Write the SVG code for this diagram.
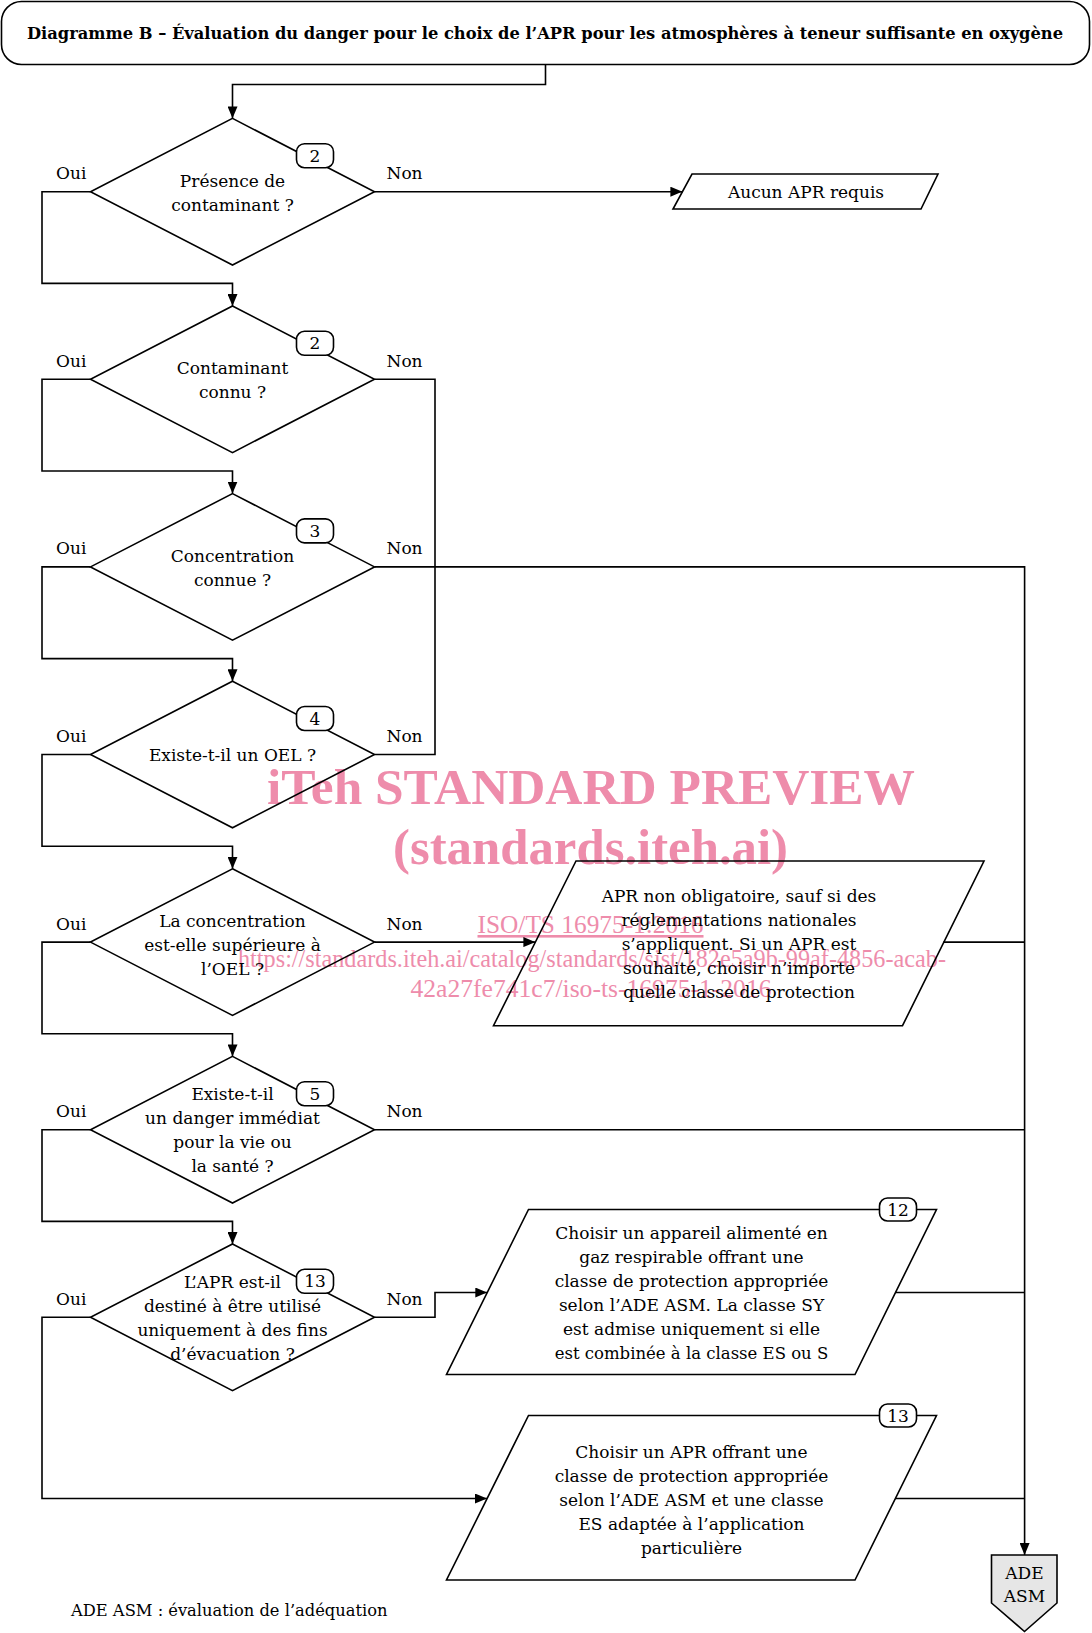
<svg xmlns="http://www.w3.org/2000/svg" width="1092" height="1633" viewBox="0 0 1092 1633">
<style>
.t{font-family:"DejaVu Serif","Liberation Serif",serif;font-size:17px;fill:#000;text-anchor:middle}
.l{font-family:"DejaVu Serif","Liberation Serif",serif;font-size:17px;fill:#000}
.s{fill:none;stroke:#000;stroke-width:1.6;stroke-linejoin:miter}
.b{fill:#fff;stroke:#000;stroke-width:1.6}
.c{fill:none;stroke:#000;stroke-width:1.6}
.a{marker-end:url(#arr)}
.wm{font-family:"Liberation Serif","Times New Roman",serif;fill:#ee8cab;text-anchor:middle}
</style>
<defs>
<marker id="arr" markerUnits="userSpaceOnUse" markerWidth="12" markerHeight="10" refX="12" refY="5" orient="auto">
<path d="M0,0 L12,5 L0,10 Z" fill="#000"/>
</marker>
</defs>
<rect width="1092" height="1633" fill="#fff"/>

<g id="watermark">
<text class="wm" x="591" y="804" style="font-size:51px;font-weight:bold" textLength="648" lengthAdjust="spacingAndGlyphs">iTeh STANDARD PREVIEW</text>
<text class="wm" x="590.5" y="864" style="font-size:51px;font-weight:bold" textLength="395" lengthAdjust="spacingAndGlyphs">(standards.iteh.ai)</text>
<text class="wm" x="590.5" y="933" style="font-size:26px;text-decoration:underline" textLength="226" lengthAdjust="spacingAndGlyphs">ISO/TS 16975-1:2016</text>
<text class="wm" x="592" y="967" style="font-size:26px" textLength="708" lengthAdjust="spacingAndGlyphs">https://standards.iteh.ai/catalog/standards/sist/182e5a9b-99af-4856-acab-</text>
<text class="wm" x="591" y="997" style="font-size:26px" textLength="361" lengthAdjust="spacingAndGlyphs">42a27fe741c7/iso-ts-16975-1-2016</text>
</g>

<g id="connectors">
<path class="c a" d="M545.5,65 V84.5 H232.5 V118.4"/>
<path class="c a" d="M90.5,191.7 H42 V283.4 H232.5 V306"/>
<path class="c a" d="M90.5,379.3 H42 V471 H232.5 V493.6"/>
<path class="c a" d="M90.5,566.9 H42 V658.6 H232.5 V681.2"/>
<path class="c a" d="M90.5,754.5 H42 V846.2 H232.5 V868.8"/>
<path class="c a" d="M90.5,942.1 H42 V1033.8 H232.5 V1056.4"/>
<path class="c a" d="M90.5,1129.7 H42 V1221.4 H232.5 V1244"/>
<path class="c a" d="M90.5,1317.3 H42 V1498.5 H487"/>
<path class="c a" d="M374.5,191.7 H682.4"/>
<path class="c" d="M374.5,379.3 H435 V754.5 H374.5"/>
<path class="c a" d="M374.5,566.9 H1024.6 V1555"/>
<path class="c a" d="M374.5,942.1 H535.4"/>
<path class="c" d="M943.4,942.1 H1024.6"/>
<path class="c" d="M374.5,1129.7 H1024.6"/>
<path class="c a" d="M374.5,1317.3 H435 V1292.5 H487.3"/>
<path class="c" d="M895.3,1292.5 H1024.6"/>
<path class="c" d="M895.1,1498.5 H1024.6"/>
</g>

<g id="title">
<rect class="s" x="1.5" y="1.5" width="1088" height="63" rx="20"/>
<text class="t" x="545" y="38.5" style="font-family:'DejaVu Serif Condensed','DejaVu Serif',serif;font-size:17px;font-weight:bold" textLength="1036" lengthAdjust="spacingAndGlyphs">Diagramme B – Évaluation du danger pour le choix de l’APR pour les atmosphères à teneur suffisante en oxygène</text>
</g>

<g id="d1">
<polygon class="s" points="232.5,118.4 374.5,191.7 232.5,265 90.5,191.7"/>
<text class="t" x="232.5" y="186.7">Présence de</text>
<text class="t" x="232.5" y="210.7">contaminant ?</text>
<rect class="b" x="296.5" y="143.7" width="37" height="24" rx="8"/>
<text class="t" x="315" y="161.7">2</text>
<text class="l" x="56" y="179.2">Oui</text>
<text class="l" x="386.5" y="179.2">Non</text>
</g>

<g id="aucun">
<polygon class="s" points="692,174 938,174 921,209 673,209"/>
<text class="t" x="806" y="198">Aucun APR requis</text>
</g>

<g id="d2">
<polygon class="s" points="232.5,306 374.5,379.3 232.5,452.6 90.5,379.3"/>
<text class="t" x="232.5" y="374.3">Contaminant</text>
<text class="t" x="232.5" y="398.3">connu ?</text>
<rect class="b" x="296.5" y="331.3" width="37" height="24" rx="8"/>
<text class="t" x="315" y="349.3">2</text>
<text class="l" x="56" y="366.8">Oui</text>
<text class="l" x="386.5" y="366.8">Non</text>
</g>

<g id="d3">
<polygon class="s" points="232.5,493.6 374.5,566.9 232.5,640.2 90.5,566.9"/>
<text class="t" x="232.5" y="561.9">Concentration</text>
<text class="t" x="232.5" y="585.9">connue ?</text>
<rect class="b" x="296.5" y="518.9" width="37" height="24" rx="8"/>
<text class="t" x="315" y="536.9">3</text>
<text class="l" x="56" y="554.4">Oui</text>
<text class="l" x="386.5" y="554.4">Non</text>
</g>

<g id="d4">
<polygon class="s" points="232.5,681.2 374.5,754.5 232.5,827.8 90.5,754.5"/>
<text class="t" x="232.5" y="760.5">Existe-t-il un OEL ?</text>
<rect class="b" x="296.5" y="706.5" width="37" height="24" rx="8"/>
<text class="t" x="315" y="724.5">4</text>
<text class="l" x="56" y="742">Oui</text>
<text class="l" x="386.5" y="742">Non</text>
</g>

<g id="d5">
<polygon class="s" points="232.5,868.8 374.5,942.1 232.5,1015.4 90.5,942.1"/>
<text class="t" x="232.5" y="926.6">La concentration</text>
<text class="t" x="232.5" y="950.6">est-elle supérieure à</text>
<text class="t" x="232.5" y="974.6">l’OEL ?</text>
<text class="l" x="56" y="929.6">Oui</text>
<text class="l" x="386.5" y="929.6">Non</text>
</g>

<g id="apr-non-obligatoire">
<polygon class="s" points="576,861 984,861 902.5,1025.7 493.5,1025.7"/>
<text class="t" x="739" y="902">APR non obligatoire, sauf si des</text>
<text class="t" x="739" y="926">réglementations nationales</text>
<text class="t" x="739" y="950">s’appliquent. Si un APR est</text>
<text class="t" x="739" y="974">souhaité, choisir n’importe</text>
<text class="t" x="739" y="998">quelle classe de protection</text>
</g>

<g id="d6">
<polygon class="s" points="232.5,1056.4 374.5,1129.7 232.5,1203 90.5,1129.7"/>
<text class="t" x="232.5" y="1100.2">Existe-t-il</text>
<text class="t" x="232.5" y="1124.2">un danger immédiat</text>
<text class="t" x="232.5" y="1148.2">pour la vie ou</text>
<text class="t" x="232.5" y="1172.2">la santé ?</text>
<rect class="b" x="296.5" y="1081.7" width="37" height="24" rx="8"/>
<text class="t" x="315" y="1099.7">5</text>
<text class="l" x="56" y="1117.2">Oui</text>
<text class="l" x="386.5" y="1117.2">Non</text>
</g>

<g id="d7">
<polygon class="s" points="232.5,1244 374.5,1317.3 232.5,1390.6 90.5,1317.3"/>
<text class="t" x="232.5" y="1287.8">L’APR est-il</text>
<text class="t" x="232.5" y="1311.8">destiné à être utilisé</text>
<text class="t" x="232.5" y="1335.8">uniquement à des fins</text>
<text class="t" x="232.5" y="1359.8">d’évacuation ?</text>
<rect class="b" x="296.5" y="1269.3" width="37" height="24" rx="8"/>
<text class="t" x="315" y="1287.3">13</text>
<text class="l" x="56" y="1304.8">Oui</text>
<text class="l" x="386.5" y="1304.8">Non</text>
</g>

<g id="p12">
<polygon class="s" points="528.5,1209.5 936.5,1209.5 855,1374.5 446.5,1374.5"/>
<text class="t" x="691.5" y="1239">Choisir un appareil alimenté en</text>
<text class="t" x="691.5" y="1263">gaz respirable offrant une</text>
<text class="t" x="691.5" y="1287">classe de protection appropriée</text>
<text class="t" x="691.5" y="1311">selon l’ADE ASM. La classe SY</text>
<text class="t" x="691.5" y="1335">est admise uniquement si elle</text>
<text class="t" x="691.5" y="1359" style="font-size:16.5px">est combinée à la classe ES ou S</text>
<rect class="b" x="879.5" y="1198" width="37" height="23" rx="8"/>
<text class="t" x="898" y="1215.5">12</text>
</g>

<g id="p13">
<polygon class="s" points="528.5,1415.5 936.5,1415.5 855,1580 446.5,1580"/>
<text class="t" x="691.5" y="1457.5">Choisir un APR offrant une</text>
<text class="t" x="691.5" y="1481.5">classe de protection appropriée</text>
<text class="t" x="691.5" y="1505.5">selon l’ADE ASM et une classe</text>
<text class="t" x="691.5" y="1529.5">ES adaptée à l’application</text>
<text class="t" x="691.5" y="1553.5">particulière</text>
<rect class="b" x="879.5" y="1404" width="37" height="23" rx="8"/>
<text class="t" x="898" y="1421.5">13</text>
</g>

<g id="ade-asm">
<polygon points="991.5,1555 1057,1555 1057,1603 1024.5,1631.5 991.5,1603" fill="#e6e6e6" stroke="#000" stroke-width="1.6"/>
<text class="t" x="1024.5" y="1579">ADE</text>
<text class="t" x="1024.5" y="1602">ASM</text>
</g>

<g id="footnote">
<text class="l" x="71" y="1616" style="font-size:16.3px">ADE ASM : évaluation de l’adéquation</text>
</g>
</svg>
